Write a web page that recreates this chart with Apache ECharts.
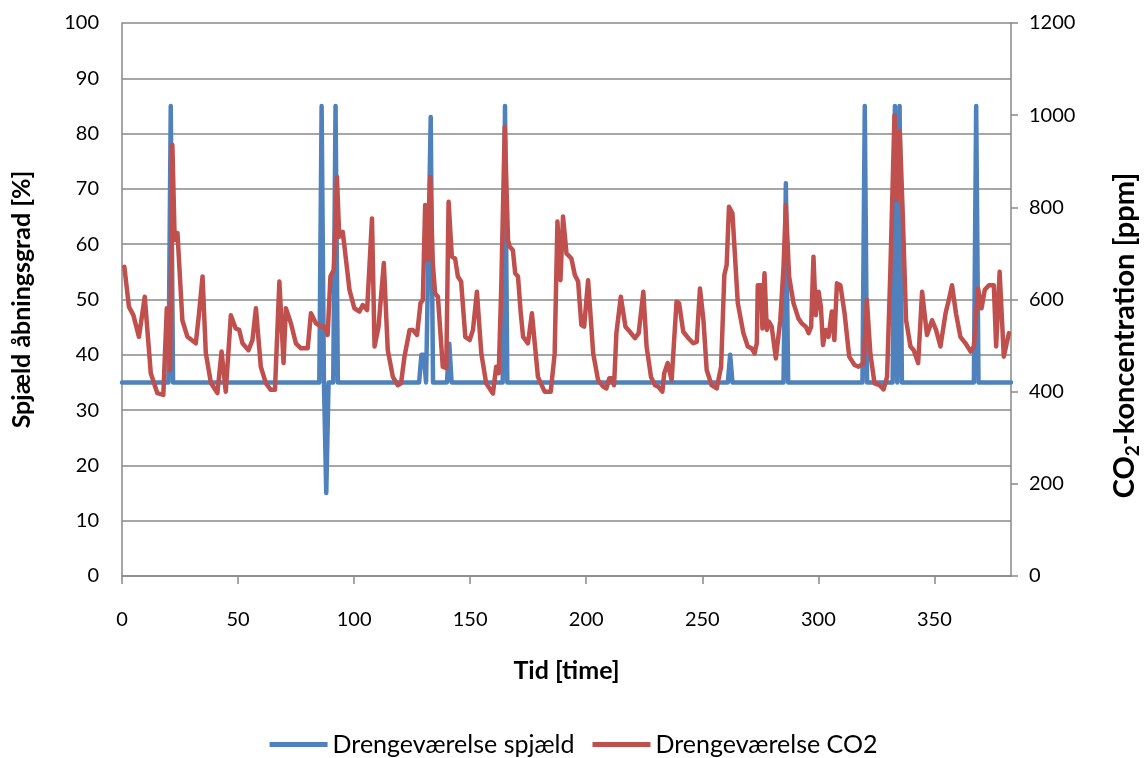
<!DOCTYPE html>
<html>
<head>
<meta charset="utf-8">
<script src="https://cdn.jsdelivr.net/npm/echarts@6/dist/echarts.min.js"></script>
<style>
html,body{margin:0;padding:0;background:#fff;overflow:hidden;}
#chart{width:1147px;height:758px;}
</style>
</head>
<body>
<div id="chart"></div>
<script>
// Damper opening (%) – hour, value (vertices)
const damperHours = [0,20,21,22,85,86,87,88,89,91,92,93,128,129,130,131,133,134,140,141,142,164,165,166,261,262,263,285,286,287,319,320,321,332,333,334,335,336,367,368,369,383];
const damperValues = [35,35,85,35,35,85,35,15,35,35,85,35,35,40,40,35,83,35,35,42,35,35,85,35,35,40,35,35,71,35,35,85,35,35,85,35,85,35,35,85,35,35];

// CO2 concentration (ppm) – hour, value
const co2Hours = [1,3,4.9,7.3,9.8,12.4,15.2,17.8,19.3,20.7,21.7,22.7,23.9,26.0,28.2,31.8,33.2,34.7,36.1,38.3,41.1,42.9,44.7,46.9,49.0,50.5,51.9,54.5,56.2,57.7,59.8,62.0,64.1,65.9,67.8,69.6,70.6,72.8,74.9,77.1,80.0,81.4,83.6,85.7,87.4,88.6,89.8,91.2,92.6,93.6,95.1,98.0,100.1,102.3,103.7,105.6,107.7,108.8,110.5,112.8,114.5,116.7,118.8,120.2,121.7,123.9,125.3,127.1,128.6,129.6,130.6,131.8,132.8,133.9,134.9,136.1,138.2,139.7,140.7,142.1,143.5,144.7,146.1,147.9,149.8,151.2,152.9,154.8,156.9,159.8,161.2,162.3,163.4,164.9,166.3,167.0,168.4,169.4,170.6,171.8,172.8,174.9,176.6,179.2,182.1,184.7,186.4,187.6,188.9,190.0,191.5,193.6,195.1,196.5,197.9,199.1,200.8,203.0,205.1,207.3,208.7,209.9,210.9,212.0,213.0,214.9,216.9,218.8,221.0,222.6,224.6,226.0,227.9,229.6,231.0,232.8,233.6,235.1,236.8,238.9,240.0,241.8,244.0,246.1,247.6,249.0,250.5,251.9,254.0,256.2,258.1,259.5,260.5,261.5,263.0,264.1,265.3,267.7,269.6,271.3,272.5,273.5,273.9,275.4,275.9,276.8,277.8,278.7,279.9,281.7,283.6,285.0,286.0,287.4,289.3,291.4,292.9,294.6,295.8,296.9,297.9,298.9,300.1,301.1,302.0,303.2,304.4,305.8,306.9,308.0,309.5,311.3,313.3,315.6,317.3,319.5,320.9,322.4,324.2,326.4,328.1,329.6,331.0,332.8,333.9,335.1,336.3,337.8,339.7,341.1,343.0,344.7,346.8,349.0,350.7,352.6,354.8,356.2,357.6,359.3,361.2,363.4,365.6,367.0,368.8,370.3,371.7,373.5,375.6,376.6,378.1,379.9,382.1];
const co2Values = [671,584,566,519,606,440,397,393,581,447,935,729,744,555,519,505,570,650,484,419,397,487,400,566,537,534,505,490,512,581,454,418,404,404,639,462,581,548,505,494,494,570,548,541,541,523,650,664,866,736,747,621,581,574,588,577,776,498,540,679,490,432,414,418,476,534,534,523,592,599,805,686,866,679,613,606,454,451,812,693,689,650,639,519,512,534,617,483,418,396,454,440,628,975,729,715,707,657,650,570,519,505,570,432,400,400,483,769,642,780,700,689,653,639,545,541,642,483,425,411,407,429,429,414,527,606,541,530,516,527,617,498,432,414,411,400,440,462,425,595,592,530,516,505,508,624,555,447,414,407,454,653,675,801,787,693,592,527,498,494,483,505,631,631,537,657,534,552,541,472,555,671,805,650,592,559,548,541,527,541,693,566,617,584,501,534,519,574,512,635,631,570,476,458,454,462,599,483,418,414,405,432,657,1000,816,964,794,555,498,490,462,617,523,555,534,498,570,599,631,570,519,505,487,498,624,581,621,631,631,498,660,476,527];

// Axis settings
const xTicks = {min: 0, max: 383, interval: 50};
const leftTicks = {min: 0, max: 100, interval: 10};
const rightTicks = {min: 0, max: 1200, interval: 200};
const seriesNames = ['Drengeværelse spjæld', 'Drengeværelse CO2'];

const FONT = 'Lato, "Open Sans", sans-serif';
const GRID = '#898989';
const TICK_FS = 20;
const TITLE_FS = 25;
const RTITLE_FS = 29;

const damperData = damperHours.map((h, i) => [h, damperValues[i]]);
const co2Data = co2Hours.map((h, i) => [h, co2Values[i]]);

const chart = echarts.init(document.getElementById('chart'), null, {renderer: 'canvas'});
chart.setOption({
  animation: false,
  backgroundColor: '#ffffff',
  grid: {left: 122, right: 136, top: 23, bottom: 182, containLabel: false, outerBoundsMode: 'none'},
  legend: {
    data: seriesNames,
    top: 732,
    padding: 0,
    left: 'center',
    icon: 'rect',
    itemWidth: 58,
    itemHeight: 5,
    itemGap: 18,
    textStyle: {fontFamily: FONT, fontSize: 25, color: '#000'}
  },
  xAxis: {
    type: 'value',
    min: xTicks.min, max: xTicks.max, interval: xTicks.interval,
    name: 'Tid [time]',
    nameLocation: 'middle',
    nameGap: 82,
    nameTextStyle: {fontFamily: FONT, fontSize: TITLE_FS, fontWeight: 'bold', color: '#000'},
    axisLine: {show: true, lineStyle: {color: GRID, width: 1.5}},
    axisTick: {show: true, length: 8, lineStyle: {color: GRID, width: 1.5}},
    axisLabel: {fontFamily: FONT, fontSize: TICK_FS, color: '#000', margin: 34, showMaxLabel: false},
    splitLine: {show: false}
  },
  yAxis: [
    {
      type: 'value', position: 'left',
      min: leftTicks.min, max: leftTicks.max, interval: leftTicks.interval,
      name: 'Spjæld åbningsgrad [%]',
      nameLocation: 'middle', nameRotate: 90, nameGap: 88,
      nameTextStyle: {fontFamily: FONT, fontSize: TITLE_FS, fontWeight: 'bold', color: '#000'},
      axisLine: {show: true, lineStyle: {color: GRID, width: 1.5}},
      axisTick: {show: false},
      axisLabel: {fontFamily: FONT, fontSize: TICK_FS, color: '#000', margin: 23},
      splitLine: {show: true, lineStyle: {color: GRID, width: 1.5}}
    },
    {
      type: 'value', position: 'right',
      min: rightTicks.min, max: rightTicks.max, interval: rightTicks.interval,
      name: '{a|CO}{b|2}{a|-koncentration [ppm]}',
      nameLocation: 'middle', nameRotate: 90, nameGap: 97,
      nameTextStyle: {
        color: '#000',
        padding: [0, 72, 0, 0],
        rich: {
          a: {fontFamily: FONT, fontSize: RTITLE_FS, fontWeight: 'bold', color: '#000', lineHeight: 34},
          b: {fontFamily: FONT, fontSize: 19, fontWeight: 'bold', color: '#000', lineHeight: 34, verticalAlign: 'bottom', padding: [13, 0, 0, 0]}
        }
      },
      axisLine: {show: true, lineStyle: {color: GRID, width: 1.5}},
      axisTick: {show: true, length: 7, lineStyle: {color: GRID, width: 1.5}},
      axisLabel: {fontFamily: FONT, fontSize: TICK_FS, color: '#000', margin: 18, formatter: v => String(v)},
      splitLine: {show: false}
    }
  ],
  series: [
    {
      name: seriesNames[0], type: 'line', yAxisIndex: 0,
      data: damperData, showSymbol: false, symbol: 'none',
      lineStyle: {color: '#4F81BD', width: 4.5, cap: 'round', join: 'round'},
      itemStyle: {color: '#4F81BD'}
    },
    {
      name: seriesNames[1], type: 'line', yAxisIndex: 1,
      data: co2Data, showSymbol: false, symbol: 'none',
      lineStyle: {color: '#C0504D', width: 4.5, cap: 'round', join: 'round'},
      itemStyle: {color: '#C0504D'}
    }
  ]
});
</script>
</body>
</html>
